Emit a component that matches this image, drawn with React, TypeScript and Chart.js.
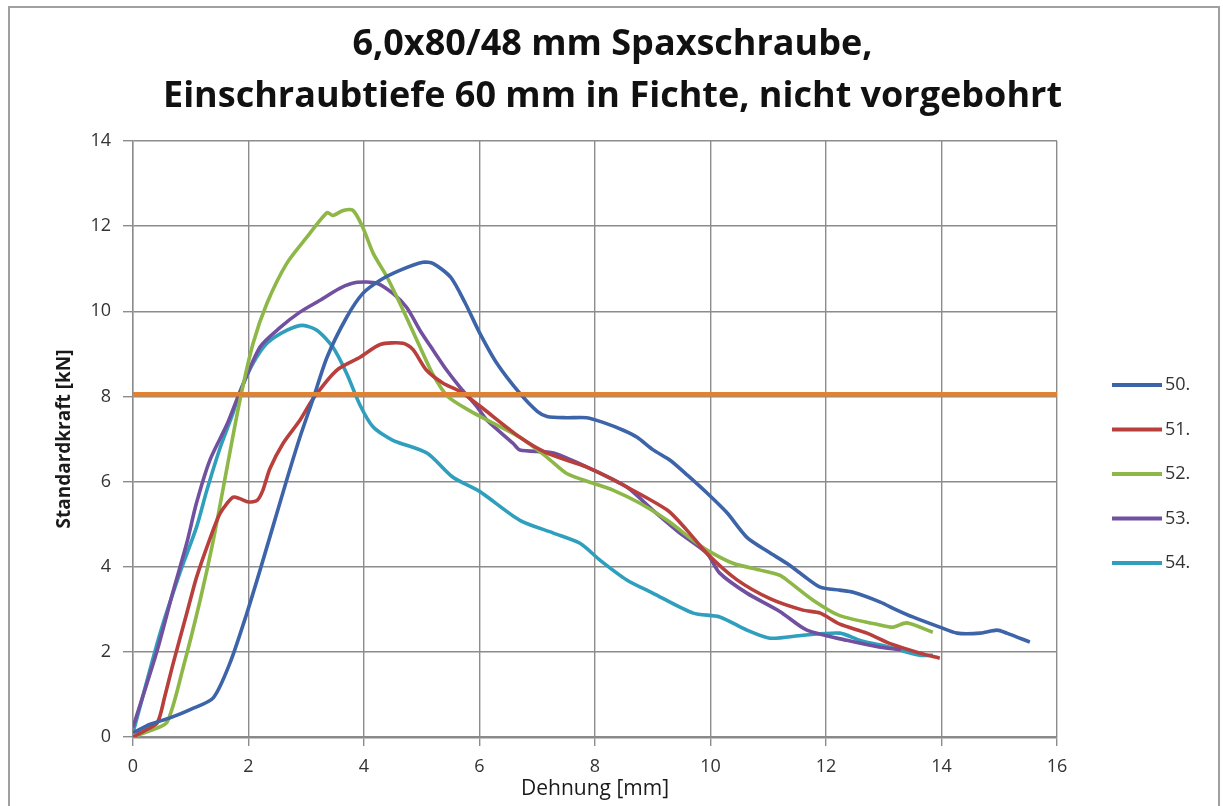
import React, { useEffect, useRef } from "react";
import { Chart, registerables } from "chart.js";

Chart.register(...registerables);

// Series: [Dehnung mm, Standardkraft kN]
const s50: [number, number][] = [
  [0, 0.1], [0.3, 0.3], [0.64, 0.45], [1.0, 0.65], [1.39, 0.92], [1.68, 1.74], [1.97, 2.9], [2.2, 3.92],
  [2.42, 4.93], [2.66, 6.03], [2.89, 7.04], [3.12, 7.95], [3.36, 8.92], [3.7, 9.86], [3.98, 10.42],
  [4.28, 10.73], [4.62, 10.96], [5.02, 11.15], [5.2, 11.12], [5.5, 10.8], [5.75, 10.2], [6.0, 9.5],
  [6.3, 8.78], [6.7, 8.07], [7.0, 7.65], [7.17, 7.53], [7.5, 7.5], [7.86, 7.5], [8.14, 7.39], [8.5, 7.2],
  [8.73, 7.04], [9.0, 6.75], [9.3, 6.5], [9.6, 6.15], [9.94, 5.73], [10.29, 5.26], [10.63, 4.69],
  [11.0, 4.35], [11.32, 4.08], [11.6, 3.8], [11.9, 3.52], [12.24, 3.45], [12.47, 3.4], [12.94, 3.17],
  [13.2, 3.0], [13.5, 2.82], [13.97, 2.58], [14.27, 2.44], [14.67, 2.44], [14.96, 2.51], [15.13, 2.44],
  [15.53, 2.23],
];
const s51: [number, number][] = [
  [0, 0], [0.2, 0.15], [0.42, 0.33], [0.55, 0.95], [0.69, 1.7], [0.93, 2.9], [1.1, 3.75], [1.33, 4.65],
  [1.51, 5.26], [1.73, 5.63], [1.85, 5.6], [2.0, 5.52], [2.15, 5.56], [2.25, 5.8], [2.37, 6.3], [2.6, 6.9],
  [2.89, 7.44], [3.12, 7.95], [3.53, 8.62], [3.93, 8.92], [4.28, 9.22], [4.68, 9.25], [4.85, 9.1],
  [5.08, 8.62], [5.37, 8.31], [5.66, 8.12], [6.0, 7.78], [6.7, 7.04], [7.17, 6.67], [7.86, 6.34],
  [8.43, 5.96], [9.25, 5.33], [9.59, 4.86], [9.94, 4.31], [10.46, 3.69], [11.03, 3.25], [11.6, 2.98],
  [11.9, 2.91], [12.24, 2.65], [12.71, 2.44], [13.1, 2.2], [13.63, 1.97], [13.97, 1.85],
];
const s52: [number, number][] = [
  [0, 0], [0.3, 0.15], [0.59, 0.35], [0.87, 1.64], [1.16, 3.2], [1.39, 4.62], [1.63, 6.34], [1.85, 7.9],
  [2.08, 9.25], [2.32, 10.19], [2.66, 11.12], [3.01, 11.74], [3.36, 12.32], [3.46, 12.25], [3.64, 12.37],
  [3.81, 12.37], [3.98, 11.97], [4.16, 11.36], [4.4, 10.8], [4.68, 10.02], [4.97, 9.16], [5.2, 8.5],
  [5.45, 8.0], [5.85, 7.65], [6.2, 7.4], [6.7, 7.04], [7.17, 6.57], [7.51, 6.19], [7.97, 5.96], [8.31, 5.8],
  [8.78, 5.49], [9.25, 5.09], [9.7, 4.62], [9.94, 4.39], [10.39, 4.08], [10.86, 3.92], [11.2, 3.8],
  [11.32, 3.69], [11.77, 3.22], [12.24, 2.85], [12.94, 2.63], [13.16, 2.58], [13.4, 2.68], [13.85, 2.46],
];
const s53: [number, number][] = [
  [0, 0.23], [0.42, 2.04], [0.69, 3.4], [0.93, 4.55], [1.1, 5.5], [1.33, 6.5], [1.63, 7.35], [1.85, 8.1],
  [2.2, 9.16], [2.55, 9.62], [2.89, 9.98], [3.24, 10.26], [3.58, 10.54], [3.88, 10.68], [4.22, 10.66],
  [4.5, 10.42], [4.74, 10.09], [4.97, 9.55], [5.2, 9.08], [5.43, 8.62], [5.66, 8.22], [5.96, 7.75],
  [6.13, 7.44], [6.58, 6.9], [6.7, 6.74], [7.28, 6.67], [7.97, 6.27], [8.55, 5.87], [9.0, 5.33],
  [9.47, 4.79], [9.94, 4.31], [10.16, 3.85], [10.63, 3.38], [11.2, 2.95], [11.67, 2.51], [12.36, 2.27],
  [12.94, 2.11], [13.3, 2.05],
];
const s54: [number, number][] = [
  [0, 0.1], [0.06, 0.4], [0.47, 2.44], [0.81, 3.85], [1.1, 4.93], [1.28, 5.8], [1.51, 6.8], [1.73, 7.6],
  [1.85, 8.1], [2.08, 8.78], [2.32, 9.25], [2.66, 9.55], [2.94, 9.67], [3.19, 9.55], [3.46, 9.16],
  [3.7, 8.54], [3.93, 7.8], [4.16, 7.28], [4.5, 6.97], [5.09, 6.67], [5.54, 6.1], [6.0, 5.77], [6.7, 5.09],
  [7.28, 4.79], [7.74, 4.55], [8.09, 4.15], [8.55, 3.69], [9.0, 3.38], [9.7, 2.91], [10.16, 2.82],
  [10.63, 2.51], [11.03, 2.32], [11.6, 2.39], [12.24, 2.44], [12.59, 2.27], [13.1, 2.11], [13.63, 1.92],
  [13.85, 1.92],
];
const threshold: [number, number][] = [[0, 8.05], [16, 8.05]];

const seriesLabels = ["50.", "51.", "52.", "53.", "54."];
const seriesData = [s50, s51, s52, s53, s54];
const seriesColors = ["#3d64a8", "#b83f3b", "#8db747", "#7150a0", "#2f9fbd"];
const thresholdColor = "#e2812f";

const titleLines = ["6,0x80/48 mm Spaxschraube,", "Einschraubtiefe 60 mm in Fichte, nicht vorgebohrt"];
const xTitle = "Dehnung [mm]";
const yTitle = "Standardkraft [kN]";

const FONT = "'Open Sans', 'DejaVu Sans', sans-serif";

const frame = {
  id: "frame",
  beforeDraw(chart: any) {
    const ctx = chart.ctx;
    ctx.save();
    ctx.fillStyle = "#ffffff";
    ctx.fillRect(0, 0, chart.width, chart.height);
    ctx.strokeStyle = "#a0a0a0";
    ctx.lineWidth = 2;
    ctx.strokeRect(9, 7, 1210, 900);
    ctx.restore();
  },
};

const centeredTitle = {
  id: "centeredTitle",
  afterDraw(chart: any) {
    const ctx = chart.ctx;
    ctx.save();
    ctx.font = `bold 36px ${FONT}`;
    ctx.fillStyle = "#111111";
    ctx.textAlign = "center";
    ctx.textBaseline = "middle";
    titleLines.forEach((line, i) => {
      ctx.fillText(line, chart.width / 2 + 1, 45 + i * 52);
    });
    ctx.restore();
  },
};

const sideLegend = {
  id: "sideLegend",
  afterDraw(chart: any) {
    const ctx = chart.ctx;
    const { right, top } = chart.chartArea;
    ctx.save();
    ctx.font = `18px ${FONT}`;
    ctx.textBaseline = "middle";
    ctx.textAlign = "left";
    let i = 0;
    chart.data.datasets.forEach((ds: any) => {
      if (!ds.showInLegend) return;
      const y = top + 244 + i * 44.5;
      ctx.strokeStyle = ds.borderColor;
      ctx.lineWidth = 4;
      ctx.beginPath();
      ctx.moveTo(right + 55, y);
      ctx.lineTo(right + 105, y);
      ctx.stroke();
      ctx.fillStyle = "#333333";
      ctx.fillText(ds.label, right + 108, y);
      i++;
    });
    ctx.restore();
  },
};

export default function App() {
  const ref = useRef<HTMLCanvasElement>(null);
  useEffect(() => {
    if (!ref.current) return;
    const datasets: any[] = [
      {
        label: "Grenze",
        data: threshold.map(([x, y]) => ({ x, y })),
        borderColor: thresholdColor,
        borderWidth: 4.5,
        pointRadius: 0,
        order: 0,
        showInLegend: false,
      },
      ...seriesData.map((s, i) => ({
        label: seriesLabels[i],
        data: s.map(([x, y]) => ({ x, y })),
        borderColor: seriesColors[i],
        backgroundColor: seriesColors[i],
        borderWidth: 3.6,
        pointRadius: 0,
        tension: 0.25,
        order: i + 1,
        showInLegend: true,
      })),
    ];
    const chart = new Chart(ref.current, {
      type: "line",
      data: { datasets },
      plugins: [frame, centeredTitle, sideLegend],
      options: {
        animation: false,
        responsive: false,
        layout: { padding: { left: 0, right: 166, top: 141, bottom: 0 } },
        plugins: {
          legend: { display: false },
          tooltip: { enabled: false },
          title: { display: false },
        },
        scales: {
          x: {
            type: "linear",
            min: 0,
            max: 16,
            ticks: { stepSize: 2, color: "#333333", font: { family: FONT, size: 18 }, padding: 10 },
            grid: { color: "#8c8c8c", lineWidth: 1.4, tickLength: 9 },
            border: { color: "#8a8a8a", width: 2.5 },
            title: {
              display: true,
              text: xTitle,
              color: "#1a1a1a",
              font: { family: FONT, size: 21 },
              padding: { bottom: 4, top: 0 },
            },
            afterFit: (scale: any) => {
              scale.height = 69;
            },
          },
          y: {
            type: "linear",
            min: 0,
            max: 14,
            ticks: { stepSize: 2, color: "#333333", font: { family: FONT, size: 18 }, padding: 12 },
            grid: { color: "#8c8c8c", lineWidth: 1.4, tickLength: 10 },
            border: { color: "#8c8c8c", width: 1.4 },
            title: {
              display: true,
              text: yTitle,
              color: "#1a1a1a",
              font: { family: FONT, size: 19, weight: "bold" },
              padding: { top: 53, bottom: 0 },
            },
            afterFit: (scale: any) => {
              scale.width = 133;
            },
          },
        },
      } as any,
    });
    return () => chart.destroy();
  }, []);
  return (
    <div style={{ position: "absolute", left: 0, top: 0, width: 1223, height: 806 }}>
      <canvas ref={ref} width={1223} height={806} />
    </div>
  );
}
